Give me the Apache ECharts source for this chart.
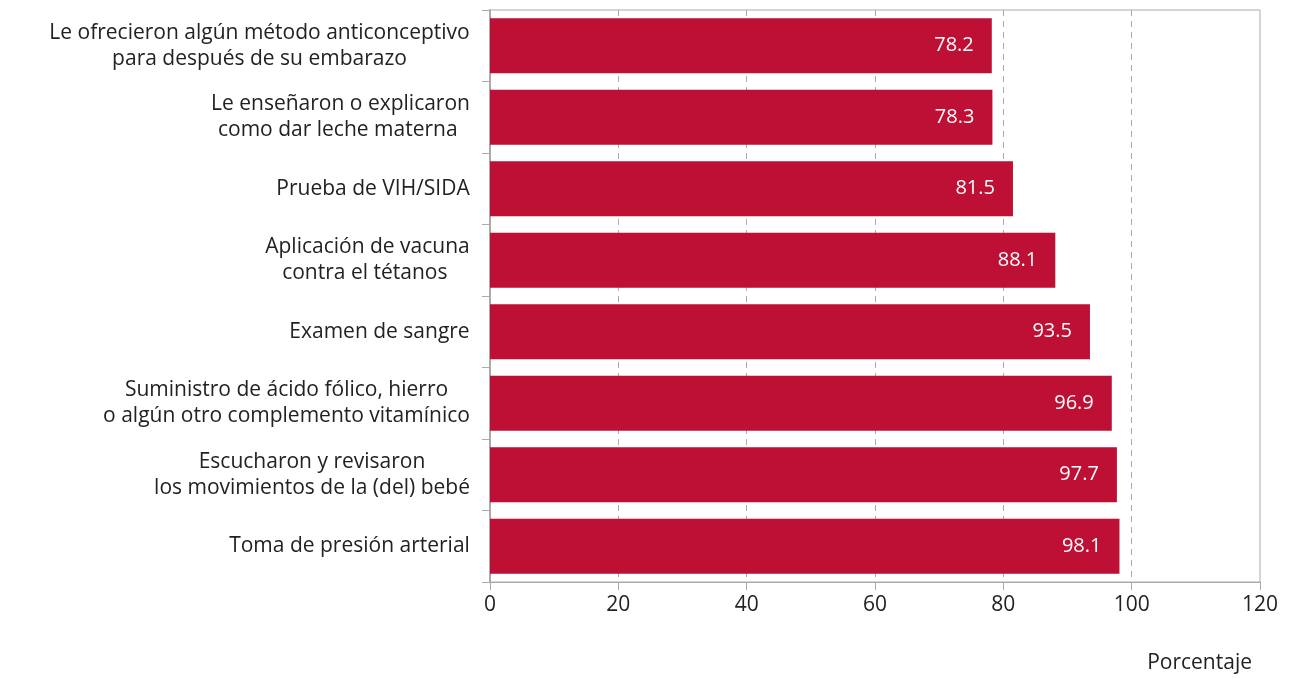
<!DOCTYPE html>
<html>
<head>
<meta charset="utf-8">
<script src="https://cdn.jsdelivr.net/npm/echarts@6/dist/echarts.min.js"></script>
<style>
  html, body { margin: 0; padding: 0; background: #fff; }
  #chart { width: 1289px; height: 679px; }
</style>
</head>
<body>
<div id="chart"></div>
<script>
// categorias (de arriba hacia abajo)
var categories = [
  'Le ofrecieron algún método anticonceptivo\npara después de su embarazo',
  'Le enseñaron o explicaron\ncomo dar leche materna ',
  'Prueba de VIH/SIDA',
  'Aplicación de vacuna\ncontra el tétanos ',
  'Examen de sangre',
  'Suministro de ácido fólico, hierro\no algún otro complemento vitamínico',
  'Escucharon y revisaron\nlos movimientos de la (del) bebé',
  'Toma de presión arterial'
]
var values = [78.2, 78.3, 81.5, 88.1, 93.5, 96.9, 97.7, 98.1]
var xTicks = [0, 20, 40, 60, 80, 100, 120]

var FONT = '"Open Sans", sans-serif'
var LABEL_SIZE = 21

//medir el ancho de cada etiqueta para centrar sus lineas
var ctx = document.createElement('canvas').getContext('2d')
ctx.font = LABEL_SIZE + 'px ' + FONT
var rich = {}
categories.forEach(function (c, i) {
  var w = Math.max.apply(null, c.split('\n').map(function (s) { return ctx.measureText(s).width }))
  rich['c' + i] = { width: Math.ceil(w), align: 'center', fontSize: LABEL_SIZE, fontFamily: FONT, color: '#222', lineHeight: 26 }
})

var myChart = echarts.init(document.getElementById('chart'))
myChart.setOption({
  animation: false,
  title: {
    text: 'Porcentaje',
    right: 32,
    bottom: 0,
    textStyle: { fontSize: 21, fontWeight: 'normal', color: '#222', fontFamily: FONT }
  },
  grid: {
    left: 490, right: 29, top: 10, bottom: 97,
    show: true, borderColor: '#aaa', borderWidth: 1
  },
  xAxis: {
    type: 'value',
    min: xTicks[0],
    max: xTicks[xTicks.length - 1],
    interval: 20,
    axisLine: { show: true, lineStyle: { color: '#aaa' } },
    axisTick: { show: true, length: 8, lineStyle: { color: '#aaa' } },
    axisLabel: { fontSize: 21, color: '#222', fontFamily: FONT, margin: 13 },
    splitLine: {
      show: true, showMinLine: false, showMaxLine: false,
      lineStyle: { color: '#aaa', type: [6, 5] }
    }
  },
  yAxis: {
    type: 'category',
    inverse: true,
    data: categories,
    axisLine: { show: true, lineStyle: { color: '#aaa', width: 2 } },
    axisTick: { show: true, length: 8, lineStyle: { color: '#aaa' } },
    axisLabel: {
      margin: 20,
      formatter: function (v, i) {
        return v.split('\n').map(function (s) { return '{c' + i + '|' + s + '}' }).join('\n')
      },
      rich: rich
    }
  },
  series: [{
    type: 'bar',
    data: values,
    barCategoryGap: '23%',
    itemStyle: { color: '#BE0F34' },
    label: {
      show: true,
      position: 'insideRight',
      distance: 18,
      color: '#fff',
      fontSize: 20,
      fontFamily: FONT,
      formatter: function (p) { return p.value.toFixed(1) }
    }
  }]
})
</script>
</body>
</html>
